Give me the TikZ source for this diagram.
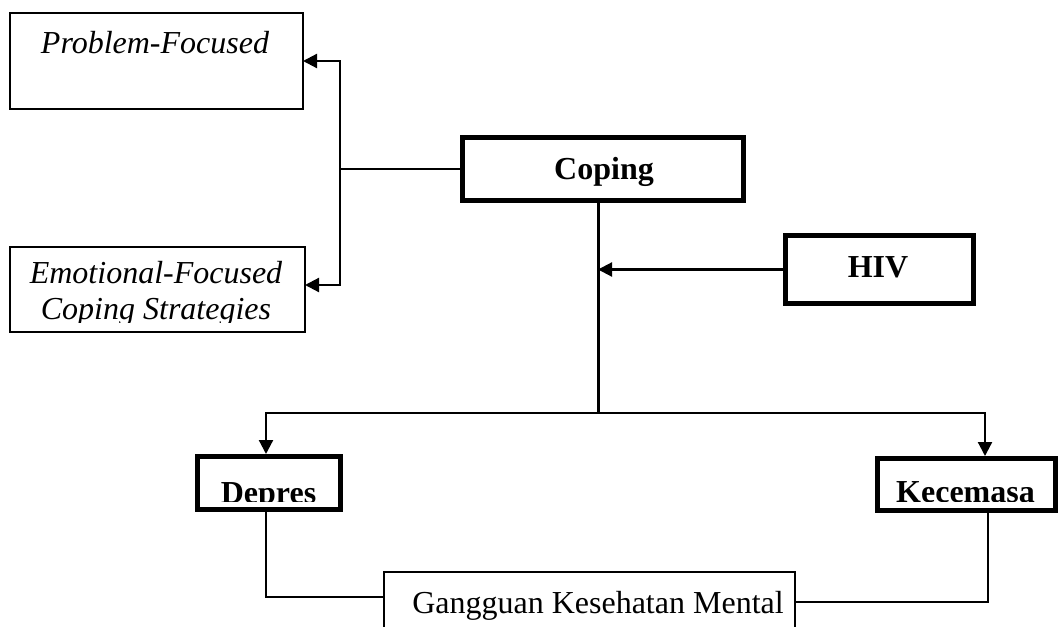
\documentclass[tikz,border=0pt]{standalone}
\usepackage{fontspec}
\setmainfont{Liberation Serif}
\usetikzlibrary{arrows.meta}
\begin{document}
\begin{tikzpicture}[x=1pt,y=-1pt,
 thinbox/.style={draw,line width=1.3pt,inner sep=0pt,outer sep=0pt},
 thickbox/.style={draw,line width=5pt,inner sep=0pt,outer sep=2.5pt},
 lbl/.style={font=\fontsize{32}{38}\selectfont,inner sep=0pt,anchor=base},
 conn/.style={line width=2.2pt},
 arr/.style={conn,-{Triangle[length=14pt,width=14pt]}}]
\clip (0,0) rectangle (1064,626);
\fill[white] (0,0) rectangle (1064,626);
% boxes
\node[thinbox,minimum width=293pt,minimum height=96pt] (pf) at (156.5,61) {};
\node[thinbox,minimum width=295pt,minimum height=85pt] (ef) at (157.5,289.5) {};
\node[thickbox,minimum width=281pt,minimum height=63pt] (cop) at (603,169) {};
\node[thickbox,minimum width=188pt,minimum height=68pt] (hiv) at (879.5,269.5) {};
\node[thickbox,minimum width=143pt,minimum height=53pt] (dep) at (269,483) {};
\node[thickbox,minimum width=178pt,minimum height=52pt] (kec) at (966.5,484.5) {};
\node[thinbox,minimum width=411pt,minimum height=78pt] (gm) at (589.5,611) {};
% texts
\node[lbl,font=\fontsize{32}{38}\selectfont\itshape] (pft) at (155,54) {Problem-Focused};
\node[lbl,font=\fontsize{32}{38}\selectfont\itshape] (eft1) at (156,283) {Emotional-Focused};
\begin{scope}
\clip (0,0) rectangle (1064,322);
\node[lbl,font=\fontsize{32}{38}\selectfont\itshape] (eft2) at (156,319) {Coping Strategies};
\end{scope}
\node[lbl,font=\fontsize{32}{38}\selectfont\bfseries] (copt) at (604,179) {Coping};
\node[lbl,font=\fontsize{32}{38}\selectfont\bfseries] (hivt) at (878,277) {HIV};
\begin{scope}
\clip (0,0) rectangle (1064,501);
\node[lbl,font=\fontsize{32}{38}\selectfont\bfseries] (dept) at (268.5,503) {Depres};
\node[lbl,font=\fontsize{32}{38}\selectfont\bfseries] (kect) at (965.5,502) {Kecemasa};
\end{scope}
\node[lbl] (gmt) at (598,613) {Gangguan Kesehatan Mental};
% connectors
\coordinate (jl) at (340,169);
\coordinate (tt) at (598,413);
\draw[conn] (cop.west) -- (jl);
\draw[arr] (jl) |- (pf.east);
\draw[arr] (jl) |- ([yshift=4.5pt]ef.east);
\draw[line width=3pt] (cop.south -| tt) -- (tt);
\draw[arr] (hiv.west) -- (hiv.west -| tt);
\draw[arr] (tt) -| ([xshift=-3pt]dep.north);
\draw[arr] (tt) -| ([xshift=18.5pt]kec.north);
\draw[conn] ([xshift=-3pt]dep.south) |- ([yshift=-25pt]gm.north west);
\draw[conn] ([xshift=21.5pt]kec.south) |- ([yshift=-30pt]gm.north east);
\end{tikzpicture}
\end{document}
